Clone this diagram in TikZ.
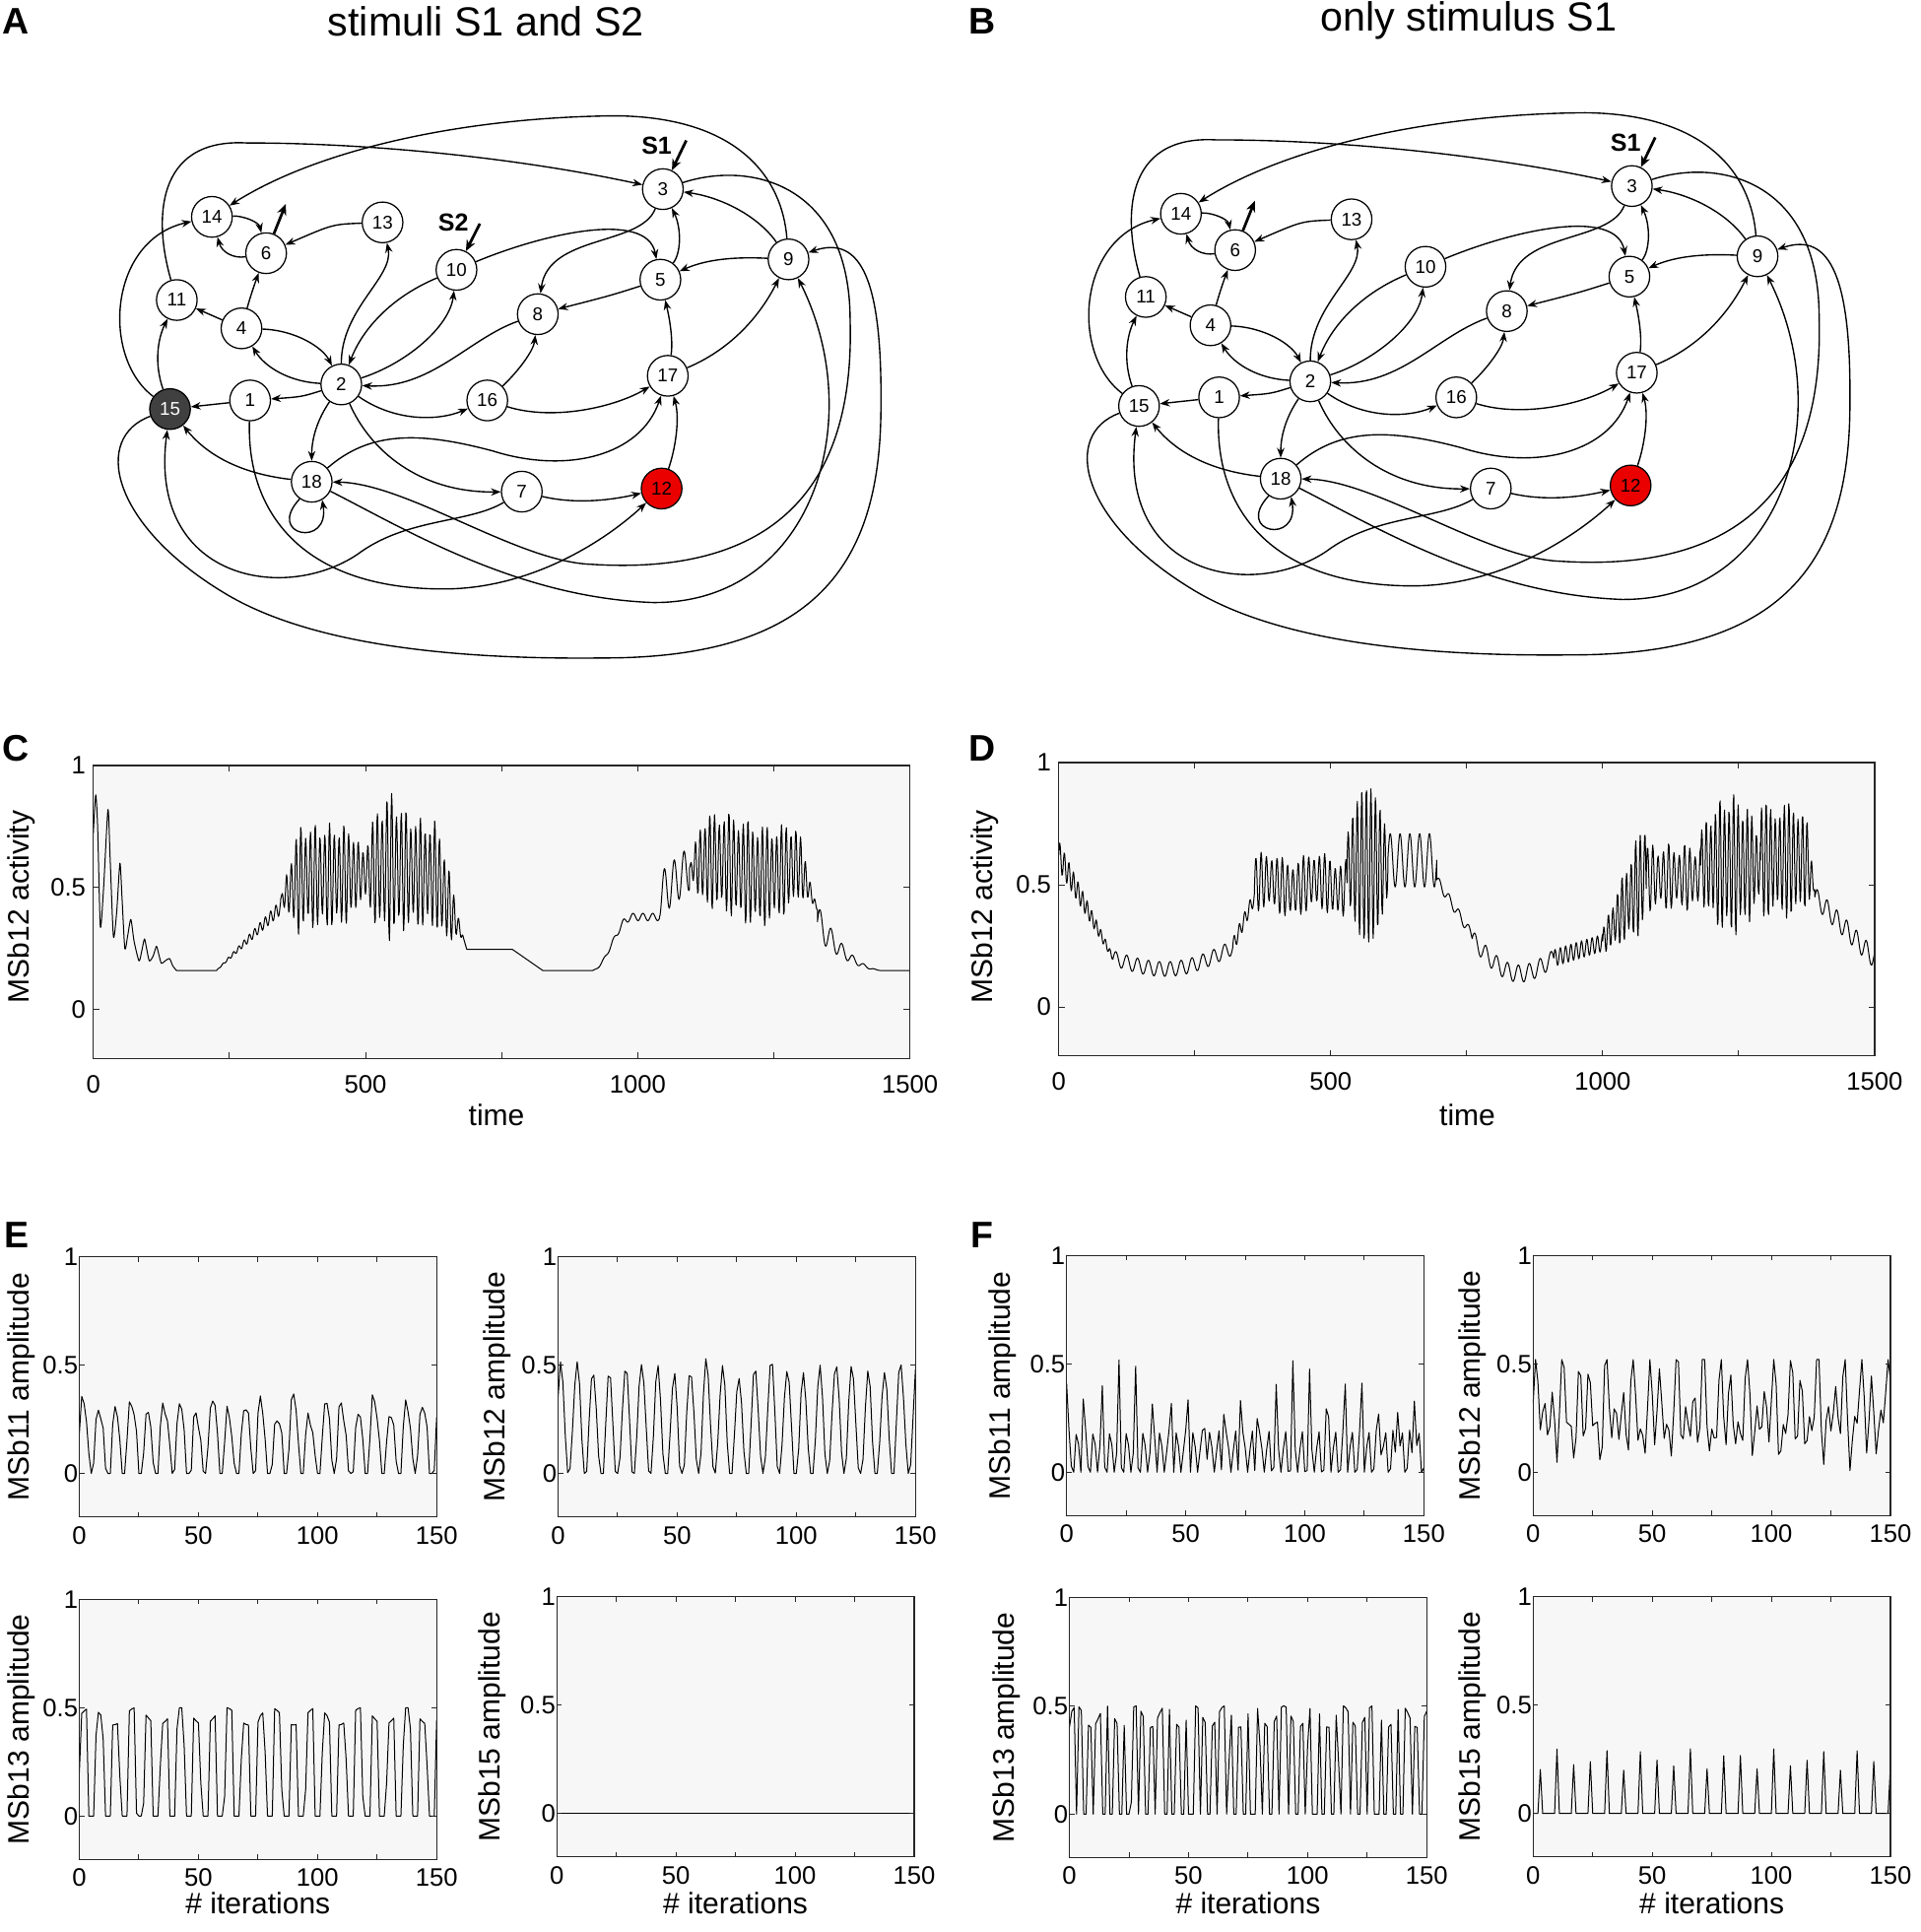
\documentclass[tikz,border=0pt]{standalone}
\usepackage{fontspec}
\setmainfont{Liberation Sans}
\usetikzlibrary{arrows.meta}
\definecolor{red12}{RGB}{235,0,0}

\newcommand\netgraph{%
 \node[gnode] (n14) at (172,176) {14};
 \node[gnode] (n6) at (216,205.5) {6};
 \node[gnode] (n13) at (310.5,180.5) {13};
 \node[gnode] (n10) at (370.5,219) {10};
 \node[gnode] (n3) at (538,153.5) {3};
 \node[gnode] (n11) at (143.5,243.5) {11};
 \node[gnode] (n4) at (196,266.5) {4};
 \node[gnode] (n8) at (436.5,255) {8};
 \node[gnode] (n5) at (536,227) {5};
 \node[gnode] (n9) at (640,210.5) {9};
 \node[gnode] (n2) at (277,312) {2};
 \node[gnode] (n1) at (203,325) {1};
 \node[gnode,g15] (n15) at (138,332) {15};
 \node[gnode] (n16) at (395.5,325) {16};
 \node[gnode] (n17) at (542,305) {17};
 \node[gnode] (n18) at (253,391) {18};
 \node[gnode] (n7) at (423.5,399) {7};
 \node[gnode,fill=red12] (n12) at (537,396.5) {12};
 \coordinate (o6) at (232,165.5);
 \coordinate (s1) at (557,114);
 \node[stimlab] (s1lab) at (533,118) {S1};
 \draw[stimarrow] (s1) -- (n3);
 \draw[stimarrow] (n6) -- (o6);
 \draw[gedge] (n14) .. controls (197,175) and (210,180) .. (n6);
 \draw[gedge] (n6) .. controls (190,210) and (180,205) .. (n14);
 \draw[gedge] (n13) .. controls (270,182) .. (n6);
 \draw[gedge] (n2) .. controls (277,250) and (320,225) .. (n13);
 \draw[gedge] (n4) .. controls (202,245) and (205,235) .. (n6);
 \draw[gedge] (n4) -- (n11);
 \draw[gedge] (n4) .. controls (240,268) and (262,282) .. (n2);
 \draw[gedge] (n2) .. controls (235,310) and (215,298) .. (n4);
 \draw[gedge] (n10) .. controls (320,240) and (295,265) .. (n2);
 \draw[gedge] (n2) .. controls (330,295) and (365,265) .. (n10);
 \draw[gedge] (n8) .. controls (380,275) and (350,316) .. (n2);
 \draw[gedge] (n2) .. controls (245,322) .. (n1);
 \draw[gedge] (n1) -- (n15);
 \draw[gedge] (n15) .. controls (125,295) and (128,275) .. (n11);
 \draw[gedge] (n15) .. controls (82,290) and (88,195) .. (n14);
 \draw[gedge] (n11) .. controls (125,180) and (125,112) .. (200,116) .. controls (300,116) and (420,128) .. (n3);
 \draw[gedge] (n9) .. controls (635,145) and (600,95) .. (500,94) .. controls (380,95) and (260,120) .. (n14);
 \draw[gedge] (n2) .. controls (320,342) and (355,342) .. (n16);
 \draw[gedge] (n2) .. controls (258,340) and (253,355) .. (n18);
 \draw[gedge] (n18) .. controls (200,385) and (170,372) .. (n15);
 \draw[gedge] (n18.235) .. controls (215,435) and (268,445) .. (n18.-60);
 \draw[gedge] (n2) .. controls (300,365) and (340,400) .. (n7);
 \draw[gedge] (n18) .. controls (300,350) and (340,350) .. (400,366) .. controls (460,385) and (520,370) .. (n17);
 \draw[gedge] (n3) .. controls (610,130) and (690,150) .. (690,260) .. controls (695,430) and (590,465) .. (480,458) .. controls (420,456) and (330,392) .. (n18);
 \draw[gedge] (n18) .. controls (330,430) and (420,485) .. (530,489) .. controls (660,490) and (705,340) .. (n9);
 \draw[gedge] (n1) .. controls (200,420) and (250,478) .. (360,478) .. controls (430,478) and (490,440) .. (n12);
 \draw[gedge] (n7) .. controls (380,425) and (330,420) .. (290,450) .. controls (230,490) and (120,470) .. (n15);
 \draw[gedge] (n15) .. controls (75,355) and (90,425) .. (180,480) .. controls (260,530) and (400,535) .. (490,534) .. controls (660,534) and (715,460) .. (715,330) .. controls (716,230) and (700,190) .. (n9);
 \draw[gedge] (n9) .. controls (615,175) and (585,160) .. (n3);
 \draw[gedge] (n9) .. controls (590,208) and (570,212) .. (n5);
 \draw[gedge] (n5) .. controls (553,205) and (553,185) .. (n3);
 \draw[gedge] (n3) .. controls (520,200) and (445,190) .. (n8);
 \draw[gedge] (n10) .. controls (440,190) and (525,170) .. (n5);
 \draw[gedge] (n5) .. controls (495,240) .. (n8);
 \draw[gedge] (n16) .. controls (420,302) and (433,285) .. (n8);
 \draw[gedge] (n16) .. controls (450,342) and (500,330) .. (n17);
 \draw[gedge] (n17) .. controls (546,280) and (545,265) .. (n5);
 \draw[gedge] (n12) .. controls (548,365) and (552,340) .. (n17);
 \draw[gedge] (n7) .. controls (470,410) and (500,405) .. (n12);
 \draw[gedge] (n17) .. controls (590,285) and (615,260) .. (n9);
}

% #1 left, #2 top, #3 ylabel, #4 ylabel x, #5 expression, #6 xlabel flag
\newcommand\smallplot[6]{%
 \begin{scope}[shift={(#1,#2+175.83)}, x=1.93333pt, y=175.83pt]
  \fill[axbg] (0,-0.2) rectangle (150,1);
  \draw[wavel] plot[domain=0:150,samples=151] (\x,{#5});
  \draw[axbox] (0,-0.2) rectangle (150,1);
  \foreach \tv in {0,25,...,150} {
    \draw[tickm] (\tv,-0.2) -- ++(0,0.0228);
    \draw[tickm] (\tv,1) -- ++(0,-0.0228);
  }
  \foreach \vv in {0,0.5} {
    \draw[tickm] (0,\vv) -- ++(2.07,0);
    \draw[tickm] (150,\vv) -- ++(-2.07,0);
  }
  \foreach \tv in {0,50,100,150} \node[ticklab,below=7.5pt] (xl\tv) at (\tv,-0.2) {\tv};
  \node[ticklab,left=1pt] (yl1) at (0,1) {1};
  \node[ticklab,left=1pt] (yl05) at (0,0.5) {0.5};
  \node[ticklab,left=1pt] (yl0) at (0,0) {0};
 \end{scope}
 \node[axlab,rotate=90] (ylab) at (#4,#2+105.5) {#3};
 \ifnum#6=1 \node[axlab] (xlab) at (#1+145,1545) {\# iterations};\fi
}

\newcommand\bigframe{%
  \draw[axbox] (0,-0.2) rectangle (1500,1);
  \foreach \tv in {0,250,...,1500} {
    \draw[tickm] (\tv,-0.2) -- ++(0,0.025);
    \draw[tickm] (\tv,1) -- ++(0,-0.025);
  }
  \foreach \vv in {0,0.5} {
    \draw[tickm] (0,\vv) -- ++(11.3,0);
    \draw[tickm] (1500,\vv) -- ++(-11.3,0);
  }
  \foreach \tv in {0,500,1000,1500} \node[ticklab,below=13.5pt] (xl\tv) at (\tv,-0.2) {\tv};
  \node[ticklab,left=6pt] (yl1) at (0,1) {1};
  \node[ticklab,left=6pt] (yl05) at (0,0.5) {0.5};
  \node[ticklab,left=6pt] (yl0) at (0,0) {0};
}

\begin{document}
\begin{tikzpicture}[x=1pt,y=-1pt,
  gnode/.style={circle,draw,line width=1pt,minimum size=33pt,inner sep=0pt,fill=white,font=\fontsize{15}{15}\selectfont},
  gedge/.style={line width=1.1pt,-{Stealth[length=8pt,width=6pt]}},
  stimarrow/.style={line width=2.2pt,-{Stealth[length=9pt,width=7.5pt]}},
  stimlab/.style={font=\bfseries\fontsize{20}{20}\selectfont,inner sep=0pt},
  titlelab/.style={font=\fontsize{33}{33}\selectfont,inner sep=0pt},
  panellab/.style={font=\bfseries\fontsize{30}{30}\selectfont,inner sep=0pt},
  ticklab/.style={font=\fontsize{20.5}{20.5}\selectfont,inner sep=0pt},
  axlab/.style={font=\fontsize{24}{24}\selectfont,inner sep=0pt},
  axbg/.style={fill=black!3},
  axbox/.style={draw=black!85,line width=1pt},
  tickm/.style={line width=0.8pt,draw=black!85},
  wavel/.style={line width=0.8pt,line join=round}]
\useasboundingbox[fill=white] (0,0) rectangle (1559,1568);

% panel letters and titles
\node[panellab] (pA) at (13,17) {A};
\node[panellab] (pB) at (797,17) {B};
\node[panellab] (pC) at (13,607) {C};
\node[panellab] (pD) at (797,607) {D};
\node[panellab] (pE) at (14,1002) {E};
\node[panellab] (pF) at (797,1002) {F};
\node[titlelab] (tA) at (394.5,17) {stimuli S1 and S2};
\node[titlelab] (tB) at (1192,17) {only stimulus S1};

% graphs
\begin{scope}[name prefix=A-, g15/.style={fill=black!75,text=white}]
  \netgraph
  \coordinate (s2) at (389.5,181.5);
  \node[stimlab] (s2lab) at (368,181) {S2};
  \draw[stimarrow] (s2) -- (n10);
\end{scope}
\begin{scope}[name prefix=B-, shift={(786.5,-2.5)}, g15/.style={fill=white}]
  \netgraph
\end{scope}

% panel C
\begin{scope}[name prefix=C-, shift={(75.7,819.5)}, x=0.44193pt, y=198.2pt]
  \fill[axbg] (0,-0.2) rectangle (1500,1);
  \draw[wavel] plot[smooth,tension=0.4] coordinates {(0,0.72) (4.5,0.88) (8,0.75) (13,0.34) (19,0.5) (27,0.82) (31,0.62) (37,0.3) (43,0.4) (49,0.6) (53,0.45) (58,0.25) (63,0.3) (69,0.37) (75,0.28) (84,0.2) (89,0.24) (94,0.29) (98,0.25) (103,0.2) (110,0.22) (116,0.26) (120,0.23) (125,0.19) (132,0.2) (140,0.21) (146,0.18) (153,0.16)}
   -- (226,0.16)
   -- plot[domain=0:118,samples=119] ({\x+226},{0.16+0.0022*\x+0.03*(\x/118)*sin(\x*37)})
   -- plot[domain=0:336,samples=337] ({\x+344},{0.45+0.09*min(1,\x/40)+0.05/(1+((\x-200)/40)*((\x-200)/40))-0.005*max(0,\x-286)+(0.22-0.14/(1+((\x-151)/12)*((\x-151)/12))+0.1/(1+((\x-200)/22)*((\x-200)/22)))*(0.85+0.15*sin(\x*13))*min(1,\x/30)*min(1,(336-\x)/40)*sin(\x*41)})
   -- (686,0.247) -- (770,0.247) -- (826,0.16) -- (915,0.16)
   -- plot[domain=0:125,samples=126] ({\x+915},{0.16+0.11*(1-cos(min(\x,75)*2.4))+0.015*sin(\x*20)*min(1,\x/60)})
   -- plot[domain=0:55,samples=56] ({\x+1040},{0.47+0.002*\x+0.09*sin(\x*20-90)})
   -- plot[domain=0:235,samples=236] ({\x+1095},{0.58+0.03*sin(\x*2)-0.2*max(0,\x-200)/35+((0.17+0.05*sin(\x*0.9))*min(1,\x/20)*min(1,(235-\x)/40)*(0.85+0.15*sin(\x*11)))*sin(\x*41)})
   -- plot[domain=0:125,samples=126] ({\x+1330},{0.16+(0.2+0.07*sin(\x*18))*(1-\x/125)*(1-\x/125)})
   -- (1500,0.16);
  \bigframe
\end{scope}
\node[axlab] (Cx) at (403,905) {time};
\node[axlab,rotate=90] (Cy) at (17.3,736) {MSb12 activity};

% panel D
\begin{scope}[name prefix=D-, shift={(859.3,817.3)}, x=0.44153pt, y=198.5pt]
  \fill[axbg] (0,-0.2) rectangle (1500,1);
  \draw[wavel] plot[domain=0:100,samples=101] ({\x},{0.62-0.0042*\x+0.06*(1-\x/120)*sin(\x*43)})
   -- plot[domain=0:220,samples=221] ({\x+100},{0.2+0.0002*\x-0.065*sin(\x*0.818)+0.03*sin(\x*18)})
   -- plot[domain=0:40,samples=41] ({\x+320},{0.25+0.005*\x+0.03*sin(\x*37)})
   -- plot[domain=0:170,samples=171] ({\x+360},{0.5+0.12*(0.85+0.15*sin(\x*9))*sin(\x*37)+0.02*sin(\x*4)})
   -- plot[domain=0:75,samples=76] ({\x+530},{0.58+(0.12+0.2*sin(\x*2.4))*sin(\x*43)})
   -- plot[domain=0:90,samples=91] ({\x+605},{0.6+0.11*sin(\x*20)})
   -- plot[domain=0:65,samples=66] ({\x+695},{0.52-0.0035*\x+0.02*sin(\x*20)})
   -- plot[domain=0:150,samples=151] ({\x+760},{0.28-0.08*\x/150-0.1*sin(\x*1.2)+0.035*sin(\x*18)})
   -- plot[domain=0:90,samples=91] ({\x+910},{0.2+0.0007*\x+0.035*sin(\x*37)})
   -- plot[domain=0:80,samples=81] ({\x+1000},{0.27+0.0035*\x+(0.05+0.0025*\x)*(0.85+0.15*sin(\x*13))*sin(\x*43)})
   -- plot[domain=0:100,samples=101] ({\x+1080},{0.53+0.14*(0.8+0.2*sin(\x*11))*sin(\x*37)})
   -- plot[domain=0:110,samples=111] ({\x+1180},{0.58+(0.15+0.15*sin(\x*1.636))*(0.85+0.15*sin(\x*13))*sin(\x*43)})
   -- plot[domain=0:100,samples=101] ({\x+1290},{0.6-0.12*max(0,\x-85)/15+0.24*(0.85+0.15*sin(\x*9))*min(1,(100-\x)/20)*sin(\x*43)})
   -- plot[domain=0:110,samples=111] ({\x+1390},{0.45-0.0023*\x+0.04*sin(\x*20)});
  \bigframe
\end{scope}
\node[axlab] (Dx) at (1191,905) {time};
\node[axlab,rotate=90] (Dy) at (799,736) {MSb12 activity};

% panels E and F
\begin{scope}[name prefix=E1-]
\smallplot{64.4}{1020}{MSb11 amplitude}{17.3}{max(0,0.14+0.2*sin(\x*53)+0.05*sin(\x*106+60)+0.04*sin(\x*21)+0.03*sin(\x*77))}{0}
\end{scope}
\begin{scope}[name prefix=E2-]
\smallplot{453}{1020}{MSb12 amplitude}{403.5}{max(0,0.22+0.27*sin(\x*53+30)+0.03*sin(\x*13)+0.02*sin(\x*89))}{0}
\end{scope}
\begin{scope}[name prefix=E3-]
\smallplot{64.4}{1298}{MSb13 amplitude}{17.3}{max(0,min(0.46+0.04*sin(\x*19),0.2+0.9*sin(\x*53)))}{1}
\end{scope}
\begin{scope}[name prefix=E4-]
\smallplot{452}{1296}{MSb15 amplitude}{399.8}{0}{1}
\end{scope}
\begin{scope}[name prefix=F1-]
\smallplot{865.7}{1019}{MSb11 amplitude}{813.7}{max(0,0.08+0.12*sin(\x*103))+0.33*max(0,(cos(\x*49.3)-0.85)*6.67)}{0}
\end{scope}
\begin{scope}[name prefix=F2-]
\smallplot{1244.4}{1019}{MSb12 amplitude}{1195}{min(0.52,max(0,0.28+0.14*sin(\x*97)+0.12*sin(\x*61+20)+0.1*sin(\x*37)))}{0}
\end{scope}
\begin{scope}[name prefix=F3-]
\smallplot{868}{1296.5}{MSb13 amplitude}{817}{max(0,min(0.45+0.05*sin(\x*29),4*(sin(\x*97)+0.5*sin(\x*41)+0.1)))}{1}
\end{scope}
\begin{scope}[name prefix=F4-]
\smallplot{1244.4}{1296}{MSb15 amplitude}{1195}{(0.25+0.05*sin(\x*83))*max(0,1-2*abs(mod(\x,7)-3))}{1}
\end{scope}
\end{tikzpicture}
\end{document}
